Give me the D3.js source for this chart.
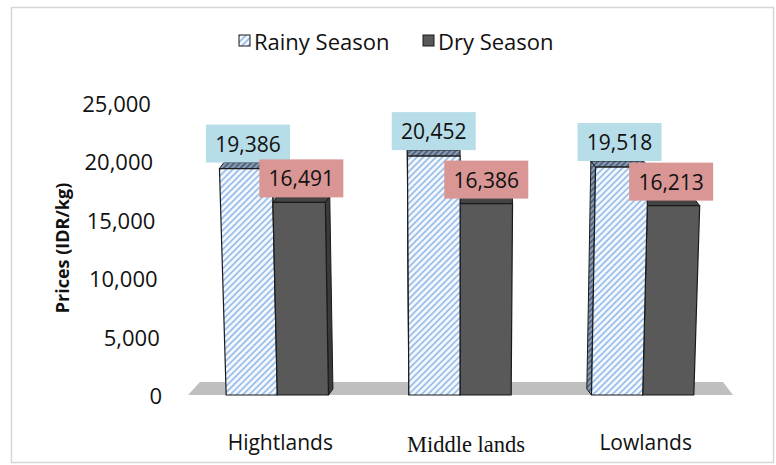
<!DOCTYPE html>
<html>
<head>
<meta charset="utf-8">
<script src="https://cdn.jsdelivr.net/npm/d3@7"></script>
<style>
  html, body { margin: 0; padding: 0; background: #fff; }
  svg { display: block; }
</style>
</head>
<body>
<svg id="chart" width="776" height="465"></svg>
<script>
// ---------- data ----------
const categories = ["Hightlands", "Middle lands", "Lowlands"];
const seriesNames = ["Rainy Season", "Dry Season"];
const rainyValues = [19386, 20452, 19518];
const dryValues = [16491, 16386, 16213];
const yTicks = [0, 5000, 10000, 15000, 20000, 25000];
const yTitle = "Prices (IDR/kg)";

// ---------- setup ----------
const svg = d3.select("#chart");
const baseY = 395;
const CX = 455, K = 1.3e-4;       // mild perspective
const proj = (x, y) => [CX + (x - CX) * (1 + K * (baseY - y)), y];
const fmt = d3.format(",");

const y = d3.scaleLinear().domain([0, 25000]).range([baseY, 103]);
const x = d3.scaleBand().domain(categories).range([186, 734]).paddingInner(0.44).paddingOuter(0.22);
const xs = d3.scaleBand().domain(seriesNames).range([0, x.bandwidth()]).padding(0);

// border
svg.append("rect").attr("x", 11.5).attr("y", 7.5).attr("width", 762).attr("height", 455)
  .attr("fill", "#fff").attr("stroke", "#d6d6d6").attr("stroke-width", 1.5);

// defs: hatch
const defs = svg.append("defs");
const pat = defs.append("pattern").attr("id", "hatch").attr("patternUnits", "userSpaceOnUse")
  .attr("width", 4.5).attr("height", 4.5).attr("patternTransform", "rotate(45)");
pat.append("rect").attr("width", 4.5).attr("height", 4.5).attr("fill", "#f4f8fd");
pat.append("rect").attr("width", 1.8).attr("height", 4.5).attr("fill", "#9cc0ea");
const pat2 = defs.append("pattern").attr("id", "hatchDark").attr("patternUnits", "userSpaceOnUse")
  .attr("width", 4).attr("height", 4).attr("patternTransform", "rotate(45)");
pat2.append("rect").attr("width", 4).attr("height", 4).attr("fill", "#8d9cb0");
pat2.append("rect").attr("width", 1.8).attr("height", 4).attr("fill", "#4a5f7c");

const FONT = "'Open Sans', Lato, sans-serif";

// floor
const floorPts = [[188, baseY], [200, 382], [723, 382], [733, baseY]];
svg.append("polygon").attr("points", floorPts.map(p => p.join(",")).join(" ")).attr("fill", "#bfbfbf");

// bars
const bars = [];
categories.forEach((c, i) => {
  [rainyValues[i], dryValues[i]].forEach((v, j) => {
    const x0 = x(c) + xs(seriesNames[j]);
    const x1 = x0 + xs.bandwidth();
    bars.push({ c, i, j, v, x0, x1, mid: (x0 + x1) / 2 });
  });
});
bars.sort((a, b) => Math.abs(b.mid - CX) - Math.abs(a.mid - CX));

const poly = pts => pts.map(p => p.join(",")).join(" ");
const barG = svg.append("g");
bars.forEach(b => {
  const yt = y(b.v);
  const gmid = x(b.c) + x.bandwidth() / 2;
  const ddx = (CX - gmid) * 0.025, ddy = -6;
  const bl = proj(b.x0, baseY), br = proj(b.x1, baseY), tl = proj(b.x0, yt), tr = proj(b.x1, yt);
  const front = [bl, tl, tr, br];
  const top = [tl, [tl[0] + ddx, tl[1] + ddy], [tr[0] + ddx, tr[1] + ddy], tr];
  const side = ddx >= 0
    ? [tr, [tr[0] + ddx, tr[1] + ddy], [br[0] + ddx, br[1] + ddy], br]
    : [tl, [tl[0] + ddx, tl[1] + ddy], [bl[0] + ddx, bl[1] + ddy], bl];
  const rainy = b.j === 0;
  barG.append("polygon").attr("points", poly(side))
    .attr("fill", rainy ? "url(#hatchDark)" : "#3a3a3a").attr("stroke", "#1a1a1a").attr("stroke-width", 1);
  barG.append("polygon").attr("points", poly(top))
    .attr("fill", rainy ? "url(#hatchDark)" : "#444").attr("stroke", "#1a1a1a").attr("stroke-width", 1);
  barG.append("polygon").attr("points", poly(front))
    .attr("fill", rainy ? "url(#hatch)" : "#595959").attr("stroke", "#1a1a1a").attr("stroke-width", 1.2);
  b.labelX = (tl[0] + tr[0]) / 2 + ddx / 2;
  b.labelBottom = yt + ddy + (rainy ? 0 : 1);
});

// data labels
const lblG = svg.append("g");
bars.slice().sort((a, b) => a.j - b.j).forEach(b => {
  const bw = 84, bh = 38;
  lblG.append("rect").attr("x", b.labelX - bw / 2).attr("y", b.labelBottom - bh)
    .attr("width", bw).attr("height", bh).attr("fill", b.j === 0 ? "#b7dde8" : "#d99694");
  lblG.append("text").attr("x", b.labelX).attr("y", b.labelBottom - bh / 2)
    .attr("text-anchor", "middle").attr("dominant-baseline", "central")
    .attr("font-family", FONT).attr("font-size", 21).attr("fill", "#111")
    .text(fmt(b.v));
});

// y tick labels
svg.append("g").selectAll("text").data(yTicks).join("text")
  .attr("x", d => proj(162, y(d))[0]).attr("y", d => y(d))
  .attr("text-anchor", "end").attr("dominant-baseline", "central")
  .attr("font-family", FONT).attr("font-size", 22).attr("fill", "#111")
  .text(d => fmt(d));

// y title
svg.append("text").attr("transform", "translate(62,248) rotate(-90)")
  .attr("text-anchor", "middle").attr("dominant-baseline", "central")
  .attr("font-family", FONT).attr("font-weight", "bold").attr("font-size", 18).attr("fill", "#111")
  .text(yTitle);

// category labels
svg.append("g").selectAll("text").data(categories).join("text")
  .attr("x", (d, i) => x(d) + x.bandwidth() / 2 + (i === 1 ? 6 : 3))
  .attr("y", (d, i) => i === 1 ? 444 : 442)
  .attr("text-anchor", "middle").attr("dominant-baseline", "central")
  .attr("font-family", (d, i) => i === 1 ? "'Liberation Serif', 'Times New Roman', serif" : FONT)
  .attr("font-size", (d, i) => i === 1 ? 22.5 : 21).attr("fill", "#111")
  .text(d => d);

// legend
const leg = svg.append("g");
const legItems = [{ name: seriesNames[0], x: 239, fill: "url(#hatch)" }, { name: seriesNames[1], x: 423, fill: "#595959" }];
legItems.forEach(it => {
  leg.append("rect").attr("x", it.x).attr("y", 35).attr("width", 11).attr("height", 11)
    .attr("fill", it.fill).attr("stroke", "#1a1a1a").attr("stroke-width", 1);
  leg.append("text").attr("x", it.x + 15).attr("y", 41).attr("dominant-baseline", "central")
    .attr("font-family", FONT).attr("font-size", 22).attr("fill", "#111").text(it.name);
});
</script>
</body>
</html>
